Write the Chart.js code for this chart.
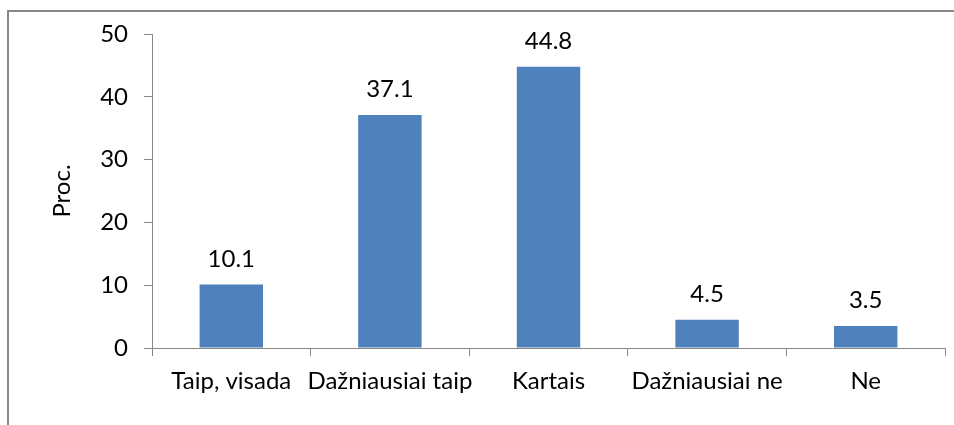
<!DOCTYPE html>
<html>
<head>
<meta charset="utf-8">
<script src="https://cdn.jsdelivr.net/npm/chart.js@4.4.1/dist/chart.umd.min.js"></script>
<style>
  body { margin: 0; background: #fff; }
  #wrap { position: relative; width: 954px; height: 425px; overflow: hidden; }
  #frame { position: absolute; left: 7px; top: 10px; width: 1000px; height: 500px; border: 2px solid #878787; }
  #chart { position: absolute; left: 0; top: 0; }
</style>
</head>
<body>
<div id="wrap">
  <div id="frame"></div>
  <canvas id="chart" width="954" height="425"></canvas>
</div>
<script>
const categories = ['Taip, visada', 'Dažniausiai taip', 'Kartais', 'Dažniausiai ne', 'Ne'];
const values = [10.1, 37.1, 44.8, 4.5, 3.5];
const yTicks = [0, 10, 20, 30, 40, 50];

const fontFamily = 'Lato, "Liberation Sans", sans-serif';
const axisGray = '#868686';

// draw value labels above each bar
const valueLabels = {
    id: 'valueLabels',
    afterDatasetsDraw(chart) {
        let ctx = chart.ctx;
        ctx.save();
        ctx.font = '24px ' + fontFamily;
        ctx.fillStyle = '#000';
        ctx.textAlign = 'center';
        ctx.textBaseline = 'alphabetic';
        chart.getDatasetMeta(0).data.forEach(function (bar, i) {
            ctx.fillText(values[i].toFixed(1), bar.x, bar.y - 18);
        });
        ctx.restore();
    }
};

new Chart(document.getElementById('chart').getContext('2d'), {
    type: 'bar',
    data: {
        labels: categories,
        datasets: [{
            data: values,
            backgroundColor: '#4F81BD',
            borderWidth: 0,
            barPercentage: 0.4,
            categoryPercentage: 1
        }]
    },
    options: {
        responsive: false,
        animation: false,
        layout: { padding: { left: 0, top: 34, right: 9, bottom: 0 } },
        plugins: {
            legend: { display: false },
            tooltip: { enabled: false }
        },
        scales: {
            x: {
                grid: { display: true, drawOnChartArea: false, drawTicks: true, tickLength: 8, color: axisGray, offset: true },
                border: { color: axisGray, width: 1 },
                ticks: { color: '#000', font: { family: fontFamily, size: 24 }, padding: 11, maxRotation: 0, autoSkip: false },
                afterFit(scale) { scale.height = 77; }
            },
            y: {
                min: 0,
                max: 50,
                afterBuildTicks(scale) { scale.ticks = yTicks.map(v => ({ value: v })); },
                grid: { display: true, drawOnChartArea: false, drawTicks: true, tickLength: 8, color: axisGray },
                border: { color: axisGray, width: 1 },
                ticks: { color: '#000', font: { family: fontFamily, size: 24 }, padding: 16 },
                title: { display: true, text: 'Proc.', color: '#000', font: { family: fontFamily, size: 24 }, padding: { top: 48 } },
                afterFit(scale) { scale.width = 152; }
            }
        }
    },
    plugins: [valueLabels]
});
</script>
</body>
</html>
